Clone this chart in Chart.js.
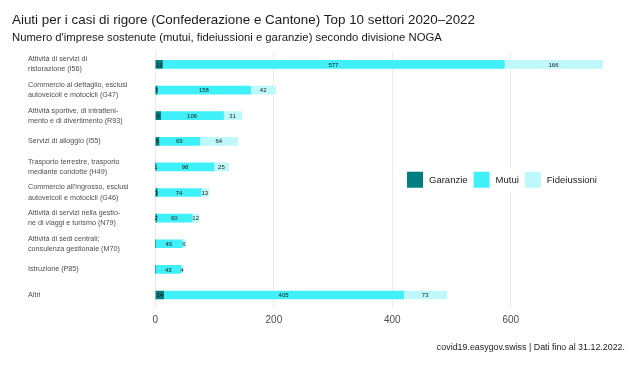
<!DOCTYPE html>
<html>
<head>
<meta charset="utf-8">
<script src="https://cdn.jsdelivr.net/npm/chart.js@4.4.1/dist/chart.umd.min.js"></script>
<style>
  html, body { margin: 0; padding: 0; background: #ffffff; }
  #wrap { width: 640px; height: 366px; }
</style>
</head>
<body>
<div id="wrap"><canvas id="chart" width="640" height="366"></canvas></div>
<script>
const sectors = [
  ['Attività di servizi di', 'ristorazione (I56)'],
  ['Commercio al dettaglio, esclusi', 'autoveicoli e motocicli (G47)'],
  ['Attività sportive, di intratteni-', 'mento e di divertimento (R93)'],
  ['Servizi di alloggio (I55)'],
  ['Trasporto terrestre, trasporto', 'mediante condotte (H49)'],
  ['Commercio all\'ingrosso, esclusi', 'autoveicoli e motocicli (G46)'],
  ['Attività di servizi nella gestio-', 'ne di viaggi e turismo (N79)'],
  ['Attività di sedi centrali;', 'consulenza gestionale (M70)'],
  ['Istruzione (P85)'],
  ['Altri']
];
const garanzie     = [12, 3, 9, 6, 1, 3, 2, 0, 0, 14];
const mutui        = [577, 158, 106, 69, 98, 74, 60, 45, 43, 405];
const fideiussioni = [166, 42, 31, 64, 25, 13, 12, 6, 4, 73];
const xTicks = [0, 200, 400, 600];

const FONT = "'Liberation Sans', Arial, sans-serif";

const plotLeft = 133;
const labelLeft = 28;
const pad = 12;

// category labels start at x = 28, left aligned, while the title starts at 12
const shiftLabels = {
  id: 'shiftLabels',
  afterLayout(chart) {
    chart.scales.y.left = labelLeft;
  }
};

const valueLabels = {
  id: 'valueLabels',
  afterDatasetsDraw(chart) {
    const ctx = chart.ctx;
    ctx.save();
    ctx.font = '6px ' + FONT;
    ctx.fillStyle = '#1a1a1a';
    ctx.textAlign = 'center';
    ctx.textBaseline = 'middle';
    chart.data.datasets.forEach((ds, i) => {
      const meta = chart.getDatasetMeta(i);
      meta.data.forEach((bar, j) => {
        const v = ds.data[j];
        if (!v) return;
        const p = bar.getProps(['x', 'y', 'base'], true);
        ctx.fillText(String(v), (p.x + p.base) / 2, p.y + 0.5);
      });
    });
    ctx.restore();
  }
};

const insideLegend = {
  id: 'insideLegend',
  afterDraw(chart) {
    const ctx = chart.ctx;
    const area = chart.chartArea;
    const sw = 16, gap = 6, itemGap = 6;
    ctx.save();
    ctx.font = '9.5px ' + FONT;
    const items = chart.data.datasets.map(ds => ({ text: ds.label, color: ds.backgroundColor, w: ctx.measureText(ds.label).width }));
    let total = 0;
    items.forEach((it, i) => { total += sw + gap + it.w + (i < items.length - 1 ? itemGap : 0); });
    const cx = area.left + 0.75 * (area.right - area.left);
    const cy = (area.top + area.bottom) / 2;
    let x = cx - total / 2;
    ctx.fillStyle = '#ffffff';
    ctx.fillRect(x - 6, cy - 12, total + 12, 24);
    ctx.textBaseline = 'middle';
    ctx.textAlign = 'left';
    items.forEach(it => {
      ctx.fillStyle = it.color;
      ctx.fillRect(x, cy - sw / 2, sw, sw);
      ctx.fillStyle = '#1a1a1a';
      ctx.fillText(it.text, x + sw + gap, cy + 0.5);
      x += sw + gap + it.w + itemGap;
    });
    ctx.restore();
  }
};

new Chart(document.getElementById('chart'), {
  type: 'bar',
  data: {
    labels: sectors,
    datasets: [
      { label: 'Garanzie', data: garanzie, backgroundColor: '#017d80' },
      { label: 'Mutui', data: mutui, backgroundColor: '#40f0f8' },
      { label: 'Fideiussioni', data: fideiussioni, backgroundColor: '#bff8fb' }
    ]
  },
  options: {
    indexAxis: 'y',
    responsive: false,
    animation: false,
    layout: { padding: { left: pad, right: 15, top: 12, bottom: 13 } },
    datasets: { bar: { barThickness: 8, borderWidth: 0 } },
    plugins: {
      legend: { display: false },
      tooltip: { enabled: false },
      title: {
        display: true,
        align: 'start',
        text: 'Aiuti per i casi di rigore (Confederazione e Cantone) Top 10 settori 2020–2022',
        color: '#1a1a1a',
        font: { family: FONT, size: 13.4, weight: 'normal' },
        padding: { top: 0, bottom: 3 }
      },
      subtitle: {
        display: true,
        align: 'start',
        text: 'Numero d\'imprese sostenute (mutui, fideiussioni e garanzie) secondo divisione NOGA',
        color: '#1a1a1a',
        font: { family: FONT, size: 11.3 },
        padding: { top: 0, bottom: 7 }
      }
    },
    scales: {
      x: {
        stacked: true,
        min: -37.75,
        max: 792.75,
        afterBuildTicks: axis => { axis.ticks = xTicks.map(v => ({ value: v })); },
        border: { display: false },
        grid: { color: '#ebebeb', lineWidth: 1, drawTicks: false },
        ticks: {
          color: '#4d4d4d',
          font: { family: FONT, size: 10 },
          padding: 6
        },
        title: {
          display: true,
          text: 'covid19.easygov.swiss | Dati fino al 31.12.2022.',
          align: 'end',
          color: '#1a1a1a',
          font: { family: FONT, size: 8.9 },
          padding: { top: 10.5, bottom: 0 }
        }
      },
      y: {
        stacked: true,
        border: { display: false },
        grid: { display: false, drawTicks: false },
        afterFit: scale => { scale.width = plotLeft - pad; },
        ticks: {
          crossAlign: 'far',
          color: '#4d4d4d',
          font: { family: FONT, size: 7.2, lineHeight: 1.4 }
        }
      }
    }
  },
  plugins: [shiftLabels, valueLabels, insideLegend]
});
</script>
</body>
</html>
